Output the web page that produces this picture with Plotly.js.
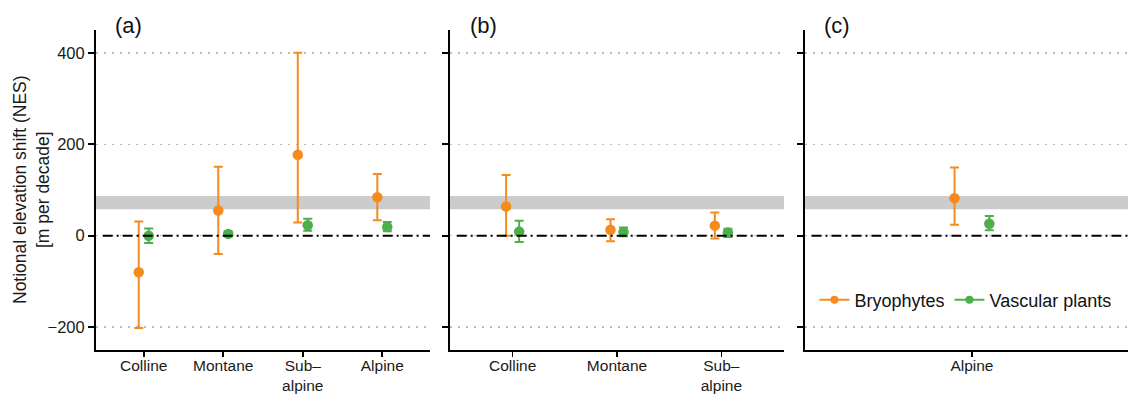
<!DOCTYPE html>
<html><head><meta charset="utf-8">
<script src="https://cdn.plot.ly/plotly-3.0.1.min.js"></script>
<style>html,body{margin:0;padding:0;background:#fff;} #chart{width:1128px;height:395px;}</style>
</head><body><div id="chart"></div>
<script>
// ---- data ----
const panelA_categories = ["Colline", "Montane", "Sub–<br>alpine", "Alpine"];
const panelA_bryo_mean  = [-80, 55, 177, 84];
const panelA_bryo_lower = [-202, -40, 29, 34];
const panelA_bryo_upper = [31, 151, 400, 135];
const panelA_vasc_mean  = [0, 4, 23, 19];
const panelA_vasc_lower = [-16, -1, 11, 10];
const panelA_vasc_upper = [16, 9, 37, 30];

const panelB_categories = ["Colline", "Montane", "Sub–<br>alpine"];
const panelB_bryo_mean  = [64, 13, 22];
const panelB_bryo_lower = [0, -12, -6];
const panelB_bryo_upper = [133, 36, 51];
const panelB_vasc_mean  = [9, 8, 7];
const panelB_vasc_lower = [-14, -1, -3];
const panelB_vasc_upper = [33, 18, 15];

const panelC_categories = ["Alpine"];
const panelC_bryo_mean  = [82];
const panelC_bryo_lower = [24];
const panelC_bryo_upper = [149];
const panelC_vasc_mean  = [26];
const panelC_vasc_lower = [12];
const panelC_vasc_upper = [43];

const referenceBand = [58, 87];   // grey band (lower, upper)
const yTicks = [-200, 0, 200, 400];
const panelLabels = ["(a)", "(b)", "(c)"];
const seriesNames = ["Bryophytes", "Vascular plants"];

// ---- styles ----
const ORANGE = "#F58A1F";
const GREEN = "#4DAF4A";
const FONT = "Liberation Sans, Arial, sans-serif";
const dodge = 0.0625;

const panels = [
  {cats: panelA_categories, b: [panelA_bryo_mean, panelA_bryo_lower, panelA_bryo_upper], v: [panelA_vasc_mean, panelA_vasc_lower, panelA_vasc_upper], xa: "x", ya: "y", dom: [96, 430], rng: [0.4, 4.6]},
  {cats: panelB_categories, b: [panelB_bryo_mean, panelB_bryo_lower, panelB_bryo_upper], v: [panelB_vasc_mean, panelB_vasc_lower, panelB_vasc_upper], xa: "x2", ya: "y2", dom: [450, 784], rng: [0.4, 3.6]},
  {cats: panelC_categories, b: [panelC_bryo_mean, panelC_bryo_lower, panelC_bryo_upper], v: [panelC_vasc_mean, panelC_vasc_lower, panelC_vasc_upper], xa: "x3", ya: "y3", dom: [805, 1128], rng: [0.4, 1.561]}
];

const W = 1128, H = 395;
const yDom = [1 - 350 / H, 1 - 30 / H];

const traces = [];
const shapes = [];
const annotations = [];
const layout = {
  width: W, height: H,
  margin: {l: 0, r: 0, t: 0, b: 0},
  paper_bgcolor: "#fff", plot_bgcolor: "rgba(0,0,0,0)",
  font: {family: FONT, size: 16, color: "#1a1a1a"},
  showlegend: true,
  legend: {orientation: "h", x: 0.722, xanchor: "left", y: 1 - 300 / H, yanchor: "middle",
           bgcolor: "rgba(0,0,0,0)", font: {size: 18, color: "#111", family: FONT}, itemwidth: 30, tracegroupgap: 0},
  shapes: shapes, annotations: annotations
};

function errTrace(stats, sign, color, p, name) {
  const [m, lo, hi] = stats;
  return {
    type: "scatter", mode: "markers", name: name, showlegend: false,
    x: m.map((_, i) => i + 1 + sign * dodge), y: m,
    xaxis: p.xa, yaxis: p.ya,
    marker: {color: color, size: 10.5},
    error_y: {type: "data", symmetric: false,
              array: hi.map((h, i) => h - m[i]), arrayminus: m.map((v, i) => v - lo[i]),
              color: color, thickness: 2, width: 4.5},
    hoverinfo: "skip"
  };
}

panels.forEach((p, k) => {
  const xs = k === 0 ? "xaxis" : "xaxis" + (k + 1);
  const ys = k === 0 ? "yaxis" : "yaxis" + (k + 1);
  layout[xs] = {
    domain: [p.dom[0] / W, p.dom[1] / W], range: p.rng, anchor: p.ya,
    tickmode: "array", tickvals: p.cats.map((_, i) => i + 1), ticktext: p.cats,
    showgrid: false, zeroline: false, showline: true, linecolor: "#000", linewidth: 2,
    ticks: "outside", ticklen: 5, tickwidth: 1.6, tickcolor: "#000", ticklabelstandoff: -5,
    tickfont: {size: 15.5, color: "#1a1a1a"}, fixedrange: true
  };
  layout[ys] = {
    domain: yDom, range: [-250, 450], anchor: p.xa,
    tickmode: "array", tickvals: yTicks, showticklabels: k === 0,
    showgrid: true, gridcolor: "#BDBDBD", gridwidth: 1.5, griddash: "2px,6px",
    zeroline: false, showline: true, linecolor: "#000", linewidth: 2,
    ticks: "outside", ticklen: 6, tickwidth: 1.6, tickcolor: "#000",
    tickfont: {size: 16.5, color: "#1a1a1a"}, fixedrange: true
  };
  shapes.push({type: "rect", xref: p.xa + " domain", yref: p.ya, x0: 0, x1: 1,
               y0: referenceBand[0], y1: referenceBand[1], fillcolor: "#CCCCCC", line: {width: 0}, layer: "below"});
  shapes.push({type: "line", xref: p.xa + " domain", yref: p.ya, x0: 0.02, x1: 1, y0: 0, y1: 0,
               line: {color: "#000", width: 2, dash: "10px,4px,2px,4px"}, layer: "above"});
  traces.push(errTrace(p.b, -1, ORANGE, p, seriesNames[0]));
  traces.push(errTrace(p.v, 1, GREEN, p, seriesNames[1]));
  annotations.push({xref: "paper", yref: "paper", x: [128, 483, 837][k] / W, y: 1 - 25 / H,
                    xanchor: "center", yanchor: "middle", showarrow: false, text: panelLabels[k],
                    font: {size: 22, color: "#111", family: FONT}});
});

annotations.push({xref: "paper", yref: "paper", x: 31 / W, y: 1 - 190 / H, xanchor: "center", yanchor: "middle",
                  showarrow: false, textangle: -90,
                  text: "Notional elevation shift (NES)<br>[m per decade]",
                  font: {size: 17.5, color: "#1a1a1a", family: FONT}});

// legend entries
traces.push({type: "scatter", mode: "lines+markers", name: seriesNames[0], x: [null], y: [null], xaxis: "x3", yaxis: "y3",
             line: {color: ORANGE, width: 2}, marker: {color: ORANGE, size: 8}});
traces.push({type: "scatter", mode: "lines+markers", name: seriesNames[1], x: [null], y: [null], xaxis: "x3", yaxis: "y3",
             line: {color: GREEN, width: 2}, marker: {color: GREEN, size: 8}});

Plotly.newPlot("chart", traces, layout, {displayModeBar: false, staticPlot: true});
</script>
</body></html>
